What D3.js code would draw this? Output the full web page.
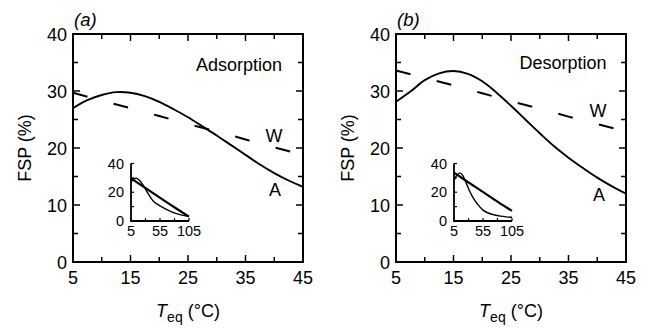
<!DOCTYPE html>
<html>
<head>
<meta charset="utf-8">
<script src="https://cdn.jsdelivr.net/npm/d3@7"></script>
<style>
  body { margin: 0; background: #fff; }
  text { font-family: "Liberation Sans", Arial, sans-serif; fill: #000; }
</style>
</head>
<body>
<div id="chart"></div>
<script>
// main panel data (T in degC, FSP in %)
const temps = [5, 7.5, 10, 12.5, 15, 17.5, 20, 22.5, 25, 27.5, 30, 32.5, 35, 37.5, 40, 42.5, 45];
const adsA = [27.0, 28.4, 29.3, 29.8, 29.7, 29.1, 28.1, 26.8, 25.4, 23.8, 22.2, 20.5, 18.8, 17.1, 15.6, 14.3, 13.2];
const desA = [28.1, 29.9, 31.9, 33.1, 33.5, 33.0, 31.7, 29.7, 27.4, 25.0, 22.6, 20.3, 18.3, 16.5, 14.8, 13.3, 12.0];
const wTemps = [5, 10, 15, 20, 25, 30, 35, 40, 45];
const adsW = [29.7, 28.3, 27.0, 25.6, 24.2, 22.9, 21.5, 20.1, 18.8];
const desW = [33.6, 32.3, 31.0, 29.6, 28.2, 26.9, 25.5, 24.2, 22.9];

// inset data
const insetTemps = [5, 10, 15, 20, 25, 30, 35, 40, 45, 55, 65, 75, 85, 95, 105];
const insetAdsA = [27.0, 29.3, 29.7, 28.1, 25.4, 22.2, 18.8, 15.6, 13.2, 10.5, 8.2, 6.4, 5.0, 3.9, 3.0];
const insetDesA = [28.1, 31.9, 33.5, 31.7, 27.4, 22.6, 18.3, 14.8, 12.0, 7.6, 5.4, 4.2, 3.4, 2.9, 2.6];
const insetWTemps = [5, 25, 45, 65, 85, 105];
const insetAdsW = [29.7, 24.3, 18.9, 13.5, 8.2, 3.0];
const insetDesW = [33.6, 28.2, 22.9, 17.5, 12.1, 7.0];

const xTicks = [5, 15, 25, 35, 45];
const yTicks = [0, 10, 20, 30, 40];
const insetXTicks = [5, 55, 105];
const insetYTicks = [0, 20, 40];

const svg = d3.select('#chart').append('svg')
    .attr('width', 649)
    .attr('height', 328);

const panels = [
  {left: 73, label: '(a)', title: 'Adsorption', a: adsA, w: adsW, ia: insetAdsA, iw: insetAdsW,
   titlePos: [239, 71], wPos: [274, 142], aPos: [275, 196]},
  {left: 396, label: '(b)', title: 'Desorption', a: desA, w: desW, ia: insetDesA, iw: insetDesW,
   titlePos: [563, 69], wPos: [598, 117], aPos: [599, 201]}
];

panels.forEach(p => drawPanel(p));

function drawPanel(p) {
  const width = 230, top = 34, bottom = 262;
  const x = d3.scaleLinear().domain([5, 45]).range([p.left, p.left + width]);
  const y = d3.scaleLinear().domain([0, 40]).range([bottom, top]);

  const g = svg.append('g');

  // ticks, all pointing inward, on four sides
  const minorX = d3.range(5, 46, 5), minorY = d3.range(0, 41, 5);
  minorX.forEach(v => {
    const len = xTicks.includes(v) ? 7 : 5;
    g.append('line').attr('x1', x(v)).attr('x2', x(v)).attr('y1', bottom).attr('y2', bottom - len)
      .attr('stroke', '#000').attr('stroke-width', 1.5);
    g.append('line').attr('x1', x(v)).attr('x2', x(v)).attr('y1', top).attr('y2', top + len)
      .attr('stroke', '#000').attr('stroke-width', 1.5);
  });
  minorY.forEach(v => {
    const len = yTicks.includes(v) ? 7 : 5;
    g.append('line').attr('x1', p.left).attr('x2', p.left + len).attr('y1', y(v)).attr('y2', y(v))
      .attr('stroke', '#000').attr('stroke-width', 1.5);
    g.append('line').attr('x1', p.left + width).attr('x2', p.left + width - len).attr('y1', y(v)).attr('y2', y(v))
      .attr('stroke', '#000').attr('stroke-width', 1.5);
  });

  // frame
  g.append('rect')
    .attr('x', p.left).attr('y', top)
    .attr('width', width).attr('height', bottom - top)
    .attr('fill', 'none').attr('stroke', '#000').attr('stroke-width', 2);

  // tick labels
  g.selectAll('.xl').data(xTicks).enter().append('text')
    .attr('x', d => x(d)).attr('y', bottom + 22)
    .attr('text-anchor', 'middle').attr('font-size', 18)
    .text(d => d);
  g.selectAll('.yl').data(yTicks).enter().append('text')
    .attr('x', p.left - 6).attr('y', d => y(d) + 6.5)
    .attr('text-anchor', 'end').attr('font-size', 18)
    .text(d => d);

  // axis titles
  const xt = g.append('text')
    .attr('x', p.left + width / 2).attr('y', 317)
    .attr('text-anchor', 'middle').attr('font-size', 18);
  xt.append('tspan').attr('font-style', 'italic').text('T');
  xt.append('tspan').attr('font-size', 14).attr('dy', 5).text('eq');
  xt.append('tspan').attr('dy', -5).text(' (°C)');

  g.append('text')
    .attr('transform', 'translate(' + (p.left - 42) + ',' + ((top + bottom) / 2) + ') rotate(-90)')
    .attr('text-anchor', 'middle').attr('font-size', 18)
    .text('FSP (%)');

  g.append('text')
    .attr('x', p.left + 1).attr('y', 26)
    .attr('font-size', 18.5).attr('font-style', 'italic')
    .text(p.label);

  // curves
  const lineA = d3.line().x((d, i) => x(temps[i])).y(d => y(d)).curve(d3.curveCatmullRom);
  const lineW = d3.line().x((d, i) => x(wTemps[i])).y(d => y(d));

  g.append('path').datum(p.w)
    .attr('fill', 'none').attr('stroke', '#000').attr('stroke-width', 2)
    .attr('stroke-dasharray', '15,27')
    .attr('d', lineW);
  g.append('path').datum(p.a)
    .attr('fill', 'none').attr('stroke', '#000').attr('stroke-width', 1.9)
    .attr('d', lineA);

  // labels
  g.append('text').attr('x', p.titlePos[0]).attr('y', p.titlePos[1])
    .attr('text-anchor', 'middle').attr('font-size', 18).text(p.title);
  g.append('text').attr('x', p.wPos[0]).attr('y', p.wPos[1])
    .attr('text-anchor', 'middle').attr('font-size', 18).text('W');
  g.append('text').attr('x', p.aPos[0]).attr('y', p.aPos[1])
    .attr('text-anchor', 'middle').attr('font-size', 18).text('A');

  // inset
  const ix0 = p.left + 58, iw = 58, ib = 221, ih = 57.5;
  const ix = d3.scaleLinear().domain([5, 105]).range([ix0, ix0 + iw]);
  const iy = d3.scaleLinear().domain([0, 40]).range([ib, ib - ih]);
  const ig = g.append('g');

  d3.range(5, 106, 25).forEach(v => {
    ig.append('line').attr('x1', ix(v)).attr('x2', ix(v)).attr('y1', ib).attr('y2', ib - 3)
      .attr('stroke', '#000').attr('stroke-width', 1.2);
  });
  d3.range(0, 41, 10).forEach(v => {
    ig.append('line').attr('x1', ix0).attr('x2', ix0 + 3).attr('y1', iy(v)).attr('y2', iy(v))
      .attr('stroke', '#000').attr('stroke-width', 1.2);
  });
  ig.append('path')
    .attr('d', 'M' + ix0 + ',' + iy(40) + 'V' + ib + 'H' + ix(105))
    .attr('fill', 'none').attr('stroke', '#000').attr('stroke-width', 1.8);

  ig.selectAll('.ixl').data(insetXTicks).enter().append('text')
    .attr('x', d => ix(d)).attr('y', ib + 15)
    .attr('text-anchor', 'middle').attr('font-size', 14.5)
    .text(d => d);
  ig.selectAll('.iyl').data(insetYTicks).enter().append('text')
    .attr('x', ix0 - 7).attr('y', d => iy(d) + 5)
    .attr('text-anchor', 'end').attr('font-size', 14.5)
    .text(d => d);

  const iLineA = d3.line().x((d, i) => ix(insetTemps[i])).y(d => iy(d)).curve(d3.curveCatmullRom);
  const iLineW = d3.line().x((d, i) => ix(insetWTemps[i])).y(d => iy(d));
  ig.append('path').datum(p.iw)
    .attr('fill', 'none').attr('stroke', '#000').attr('stroke-width', 2.2)
    .attr('d', iLineW);
  ig.append('path').datum(p.ia)
    .attr('fill', 'none').attr('stroke', '#000').attr('stroke-width', 1.4)
    .attr('d', iLineA);
}
</script>
</body>
</html>
